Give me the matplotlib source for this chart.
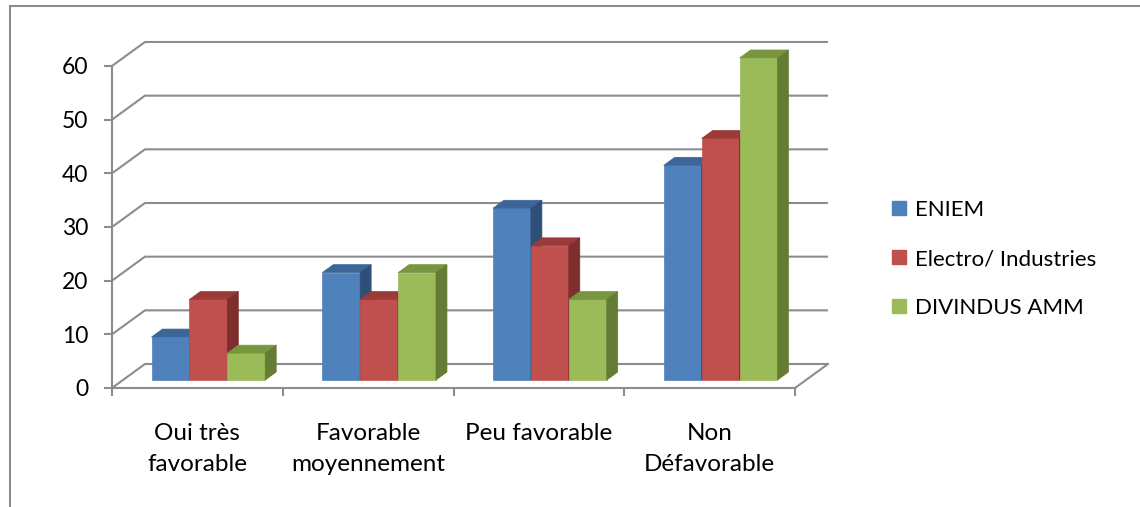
import numpy as np
import matplotlib.pyplot as plt
from matplotlib.patches import Polygon, Patch
from matplotlib.lines import Line2D

plt.rcParams['font.family'] = ['Lato', 'DejaVu Sans']

categories = ["Oui très\nfavorable", "Favorable\nmoyennement", "Peu favorable", "Non\nDéfavorable"]
series_names = ["ENIEM", "Electro/ Industries", "DIVINDUS AMM"]
eniem = [8, 20, 32, 40]
electro = [15, 15, 25, 45]
divindus = [5, 20, 15, 60]
yticks = [0, 10, 20, 30, 40, 50, 60]

series = [eniem, electro, divindus]
# front / top / side shades for each series
shades = [
    ("#4F81BD", "#3D6598", "#2F4F78"),
    ("#C0504D", "#9A3B39", "#7E2E2C"),
    ("#9BBB59", "#789540", "#647C34"),
]
grid_col = "#8C8C8C"

# pseudo 3D: depth offset of the back wall in data units
DX, DY = 0.193, 4.47
d_front, d_back = 1 / 3, 2 / 3
bar_w = 0.222
gap = (1 - 3 * bar_w) / 2

fig = plt.figure(figsize=(11.4, 5.07), dpi=100)
W, H = 1140, 507
x0_px, y0_px = 112, 388
ux, uy = 170.75, 5.367
ax = fig.add_axes([x0_px / W, (H - y0_px) / H,
                   (4 + DX) * ux / W, (60 + DY) * uy / H])
ax.set_xlim(0, 4 + DX)
ax.set_ylim(0, 60 + DY)

for s in ["top", "right"]:
    ax.spines[s].set_visible(False)
for s in ["left", "bottom"]:
    ax.spines[s].set_color(grid_col)
    ax.spines[s].set_linewidth(1.5)
ax.spines["left"].set_bounds(0, 60)
ax.spines["bottom"].set_bounds(0, 4)

ax.set_yticks(yticks)
ax.tick_params(axis="y", direction="out", length=6, width=1.5, color=grid_col,
               pad=11, labelsize=16.5)
ax.set_xticks(np.arange(5))
ax.set_xticklabels([])
ax.set_xticks(np.arange(4) + 0.5, minor=True)
ax.set_xticklabels(categories, minor=True, fontsize=17.5, linespacing=1.6)
ax.tick_params(axis="x", which="major", direction="out", length=6, width=1.5, color=grid_col)
ax.tick_params(axis="x", which="minor", length=0, pad=25)

# gridlines: side wall diagonal + back wall horizontal
for v in yticks:
    ax.plot([0, DX, 4 + DX], [v, v + DY, v + DY], color=grid_col, lw=1.5,
            zorder=1, clip_on=False, solid_capstyle="butt")
ax.plot([4, 4 + DX], [0, DY], color=grid_col, lw=1.5, zorder=1, clip_on=False)


def pt(x, v, d):
    return (x + d * DX, v + d * DY)


z = 2
for i in range(len(categories)):
    for j, vals in enumerate(series):
        h = vals[i]
        xl = i + gap + j * bar_w
        xr = xl + bar_w
        front, top, side = shades[j]
        faces = [
            ([pt(xl, 0, d_front), pt(xr, 0, d_front), pt(xr, h, d_front), pt(xl, h, d_front)], front),
            ([pt(xl, h, d_front), pt(xr, h, d_front), pt(xr, h, d_back), pt(xl, h, d_back)], top),
            ([pt(xr, 0, d_front), pt(xr, h, d_front), pt(xr, h, d_back), pt(xr, 0, d_back)], side),
        ]
        for verts, c in faces:
            ax.add_patch(Polygon(verts, closed=True, facecolor=c, edgecolor=c,
                                 lw=0.5, zorder=z, clip_on=False))
        z += 1

handles = [Patch(facecolor=s[0], edgecolor=s[0]) for s in shades]
fig.legend(handles, series_names, loc="center left", bbox_to_anchor=(872 / W, 1 - 259 / H),
           frameon=False, fontsize=16, handlelength=0.62, handleheight=0.62,
           handletextpad=0.4, labelspacing=1.3)

# outer chart frame
fig.add_artist(Line2D([10 / W, 1], [1 - 6 / H, 1 - 6 / H], color=grid_col, lw=1.5))
fig.add_artist(Line2D([10 / W, 10 / W], [0, 1 - 6 / H], color=grid_col, lw=1.5))

fig.savefig("out.png", dpi=100)
